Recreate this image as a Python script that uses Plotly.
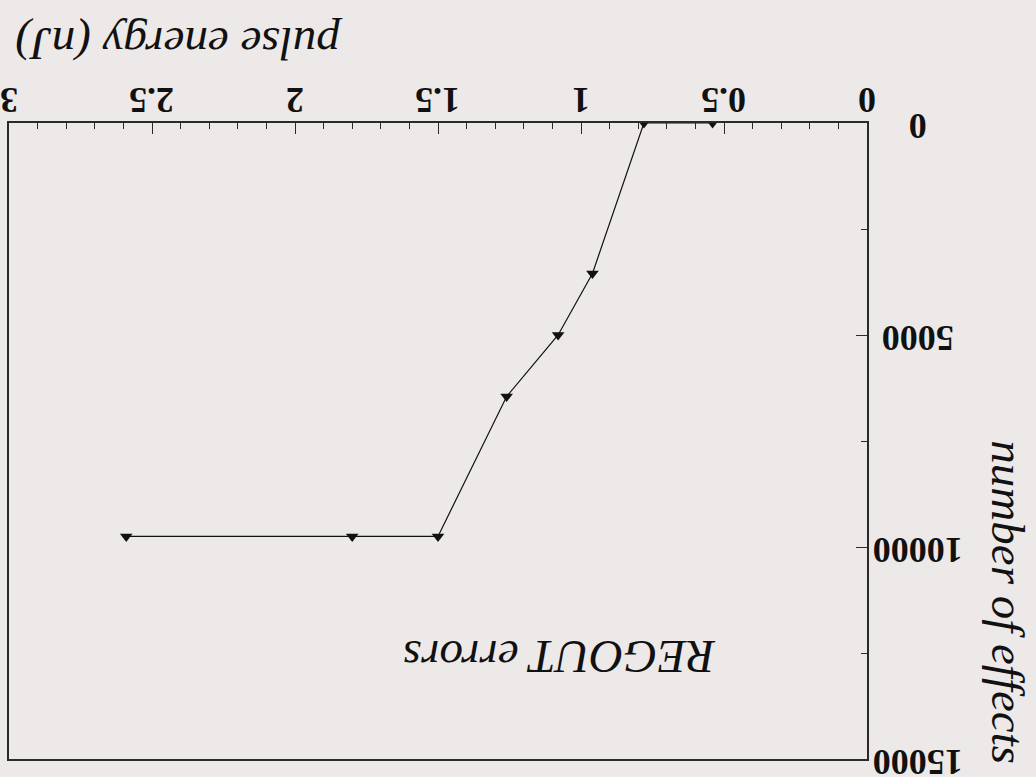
import plotly.graph_objects as go

# pulse energy (nJ) vs number of REGOUT errors
energy = [0.54, 0.78, 0.96, 1.08, 1.26, 1.50, 1.80, 2.59]
effects = [0, 0, 3550, 5000, 6450, 9750, 9750, 9750]

x_ticks = [0, 0.5, 1, 1.5, 2, 2.5, 3]
x_tick_text = ["0", "0.5", "1", "1.5", "2", "2.5", "3"]
y_ticks = [0, 5000, 10000, 15000]
y_tick_text = ["0", "5000", "10000", "15000"]

BG = "rgb(236,233,232)"
INK = "#111111"
AXIS = "#2a2a2a"
SERIF = "Liberation Serif, Times New Roman, serif"

fig = go.Figure()
fig.add_trace(go.Scatter(
    x=energy, y=effects, mode="lines+markers",
    line=dict(color=INK, width=1.2),
    marker=dict(symbol="triangle-down", size=11, color=INK),
    showlegend=False,
))

axis_common = dict(
    showgrid=False, zeroline=False, showline=True, linecolor=AXIS,
    linewidth=2, mirror=True, ticks="inside", ticklen=11, tickwidth=1.3,
    tickcolor=AXIS, showticklabels=False,
)

fig.update_xaxes(
    range=[3, 0], side="top", tickvals=x_ticks,
    minor=dict(ticks="inside", ticklen=6, tickwidth=1.1, tickcolor=AXIS, dtick=0.1),
    **axis_common,
)
fig.update_yaxes(
    range=[15000, 0], side="right", tickvals=y_ticks,
    minor=dict(ticks="inside", ticklen=6, tickwidth=1.1, tickcolor=AXIS, dtick=2500),
    **axis_common,
)

# upside-down tick labels, placed on the axis scales
tick_font = dict(family=SERIF, size=36, color=INK, weight="bold")
for v, t in zip(x_ticks, x_tick_text):
    fig.add_annotation(text=t, xref="x", yref="paper", x=v, y=1.036,
                       textangle=180, showarrow=False, font=tick_font,
                       xanchor="center", yanchor="middle")
for v, t in zip(y_ticks, y_tick_text):
    fig.add_annotation(text=t, xref="paper", yref="y", x=1.0593, y=v,
                       yshift=-3, textangle=180, showarrow=False,
                       font=tick_font, xanchor="center", yanchor="middle")

title_font = dict(family=SERIF, size=47, color=INK, style="italic")
fig.add_annotation(text="pulse energy (nJ)", xref="paper", yref="paper",
                   x=0.198, y=1.124, textangle=180, showarrow=False,
                   font=title_font, xanchor="center", yanchor="middle")
fig.add_annotation(text="number of effects", xref="paper", yref="paper",
                   x=1.165, y=0.247, textangle=90, showarrow=False,
                   font=title_font, xanchor="center", yanchor="middle")
fig.add_annotation(text="REGOUT errors", xref="paper", yref="paper",
                   x=0.641, y=0.160, textangle=180, showarrow=False,
                   font=title_font, xanchor="center", yanchor="middle")

fig.update_layout(
    width=1036, height=777,
    margin=dict(l=7, r=169, t=123, b=18),
    paper_bgcolor=BG, plot_bgcolor=BG,
)

fig.write_html("out.html")
